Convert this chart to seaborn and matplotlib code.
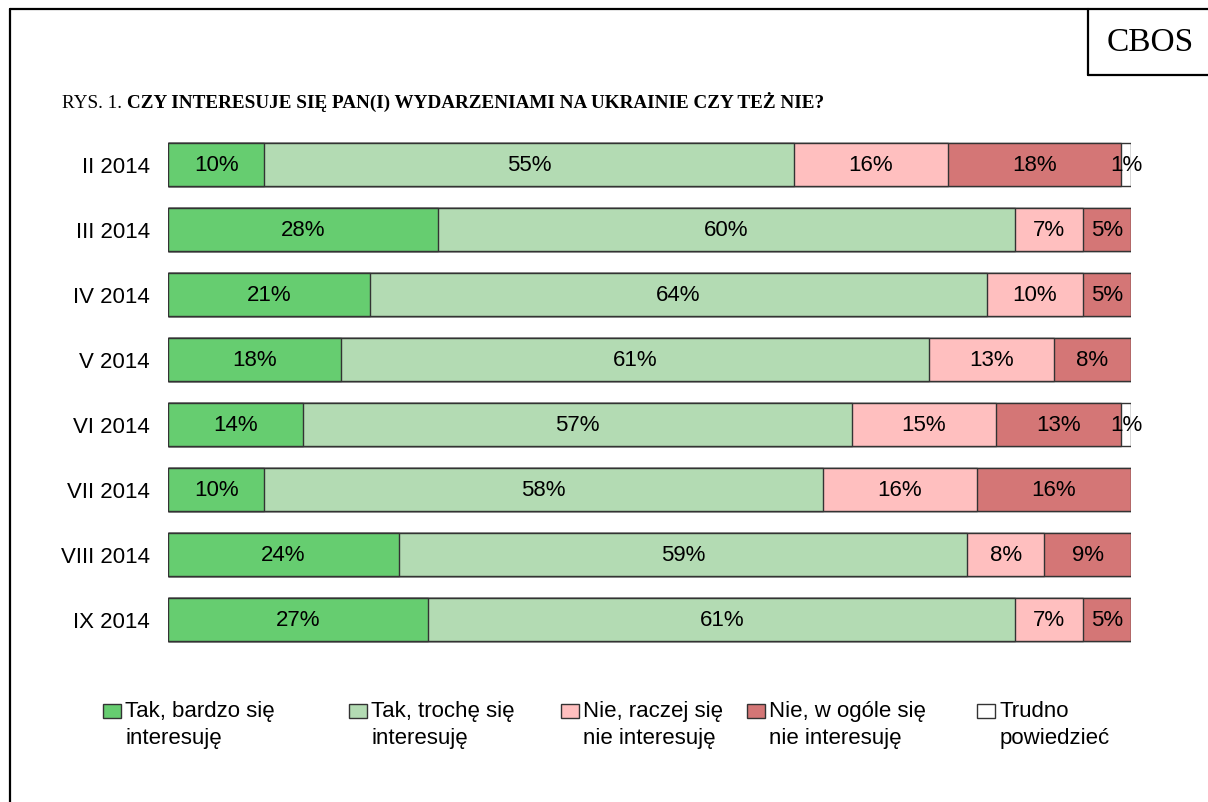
import numpy as np
import pandas as pd
import matplotlib.pyplot as plt
import seaborn as sns
from matplotlib.patches import Patch
from matplotlib.lines import Line2D

# dane z wykresu
okresy = ['II 2014', 'III 2014', 'IV 2014', 'V 2014',
          'VI 2014', 'VII 2014', 'VIII 2014', 'IX 2014']
bardzo = [10, 28, 21, 18, 14, 10, 24, 27]
troche = [55, 60, 64, 61, 57, 58, 59, 61]
raczej_nie = [16, 7, 10, 13, 15, 16, 8, 7]
w_ogole_nie = [18, 5, 5, 8, 13, 16, 9, 5]
trudno = [1, 0, 0, 0, 1, 0, 0, 0]

kategorie = ['Tak, bardzo się\ninteresuję', 'Tak, trochę się\ninteresuję',
             'Nie, raczej się\nnie interesuję', 'Nie, w ogóle się\nnie interesuję',
             'Trudno\npowiedzieć']
kolory = ['#66CD70', '#B3DBB3', '#FFBFBF', '#D47676', '#FFFFFF']

tytul_num = 'RYS. 1. '
tytul = 'CZY INTERESUJE SIĘ PAN(I) WYDARZENIAMI NA UKRAINIE CZY TEŻ NIE?'

# %%
sns.set_theme(style='white')
plt.rcParams['font.family'] = ['Liberation Sans', 'DejaVu Sans']
plt.rcParams['text.color'] = 'black'

warstwy = [bardzo, troche, raczej_nie, w_ogole_nie, trudno]
wartosci = np.array(warstwy, dtype=float)
skum = wartosci.cumsum(axis=0)

fig = plt.figure(figsize=(12.08, 8.03), dpi=100)
ax = fig.add_axes([168 / 1208, 1 - 653 / 803, 963 / 1208, 520 / 803])

# słupki skumulowane - od najszerszego do najwęższego
for i in range(len(warstwy) - 1, -1, -1):
    df = pd.DataFrame({'okres': okresy, 'cum': skum[i]})
    sns.barplot(
        data=df, x='cum', y='okres', orient='h',
        color=kolory[i], saturation=1, width=0.66,
        edgecolor='#333333', linewidth=1, ax=ax
    )

# etykiety procentowe
for i in range(len(warstwy)):
    for j, okres in enumerate(okresy):
        v = wartosci[i, j]
        if v <= 0:
            continue
        ax.text(skum[i, j] - v / 2, j, f'{int(v)}%',
                ha='center', va='center', fontsize=16, color='black')

ax.set_xlim(0, 100)
ax.set_xlabel('')
ax.set_ylabel('')
ax.set_xticks([])
ax.tick_params(axis='y', length=0, pad=13, labelsize=16, labelcolor='black')
sns.despine(ax=ax, left=True, bottom=True)

# legenda - każdy element osobno
leg_x = [103, 349, 561, 747, 977]
for k, (c, lab) in enumerate(zip(kolory, kategorie)):
    leg = fig.legend(
        [Patch(facecolor=c, edgecolor='#333333', linewidth=1)], [lab],
        loc='upper left', bbox_to_anchor=(leg_x[k] / 1208, 1 - 701 / 803),
        frameon=False, fontsize=16, borderaxespad=0, borderpad=0,
        handlelength=0.8, handleheight=0.6, handletextpad=0.2,
        labelspacing=0.2
    )
    for t in leg.get_texts():
        t.set_linespacing(1.4)
    for p in leg.get_patches():
        p.set_y(p.get_y() + 9.7)

# tytuł
t1 = fig.text(62 / 1208, 1 - 108 / 803, tytul_num, fontsize=13.8,
              family=['Liberation Serif', 'DejaVu Serif'], va='baseline')
fig.canvas.draw()
ax.annotate(tytul, xy=(1, 0), xycoords=t1, xytext=(0, 0), textcoords='offset points',
            ha='left', va='bottom', fontsize=13.8, fontweight='bold',
            family=['Liberation Serif', 'DejaVu Serif'], annotation_clip=False)

# ramka i pole CBOS
fig.text(1150 / 1208, 1 - 43 / 803, 'CBOS', fontsize=24,
         family=['Liberation Serif', 'DejaVu Serif'], ha='center', va='center')
W, H = 1208, 803
linie = [((10, W), (10, 10)), ((10, 10), (10, H)),
         ((1088, 1088), (10, 76)), ((1088, W), (76, 76))]
for xs, ys in linie:
    fig.add_artist(Line2D([x / W for x in xs], [1 - y / H for y in ys],
                          color='black', linewidth=1.6))

plt.savefig('out.png', dpi=100)
